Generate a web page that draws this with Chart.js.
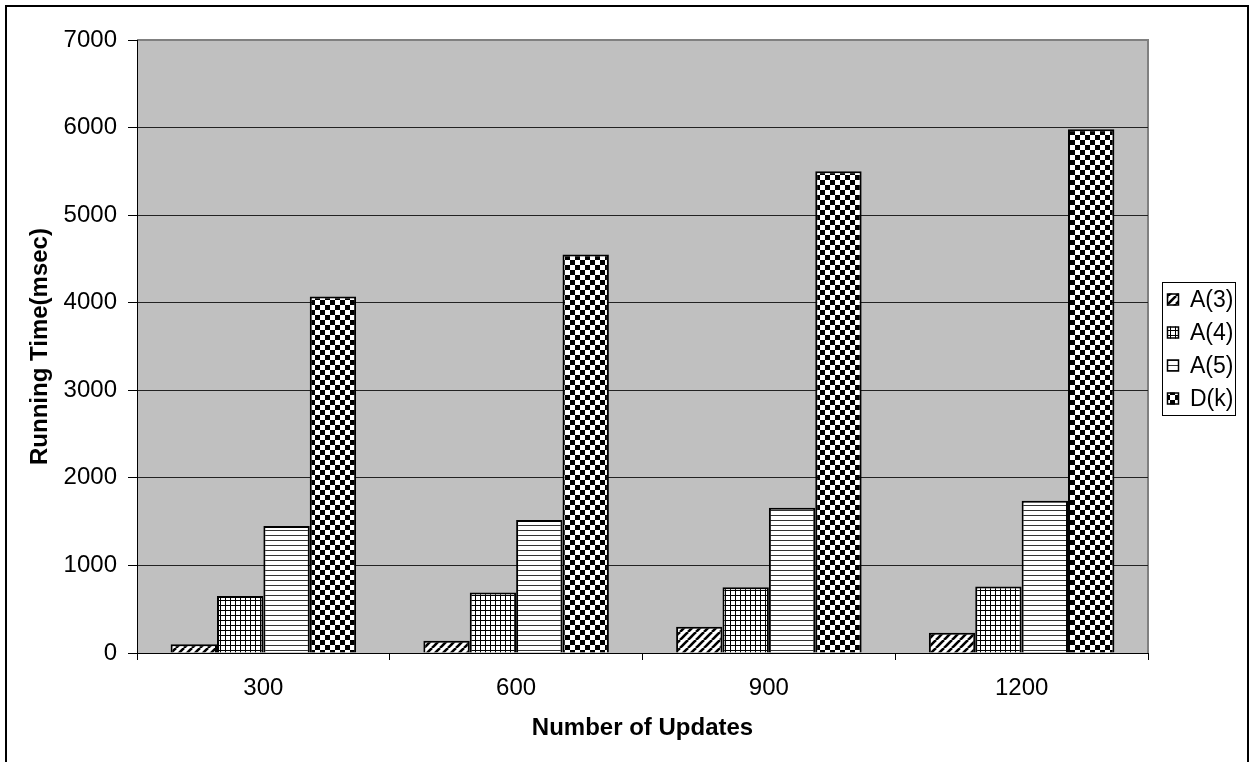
<!DOCTYPE html>
<html>
<head>
<meta charset="utf-8">
<script src="https://cdn.jsdelivr.net/npm/chart.js@4.4.0/dist/chart.umd.min.js"></script>
<style>
  html, body { margin: 0; padding: 0; background: #fff; }
  #wrap { width: 1254px; height: 762px; }
</style>
</head>
<body>
<div id="wrap"><canvas id="c" width="1254" height="762"></canvas></div>
<script>
// Categories and series
const categories = ['300', '600', '900', '1200'];
const seriesNames = ['A(3)', 'A(4)', 'A(5)', 'D(k)'];
const a3 = [100, 140, 300, 230];
const a4 = [650, 690, 750, 760];
const a5 = [1450, 1520, 1660, 1740];
const dk = [4070, 4550, 5500, 5980];
const yMin = 0;
const yMax = 7000;
const yStep = 1000;

const FONT = '"Liberation Sans", Arial, sans-serif';

// Monochrome fill patterns for the four series
function makePattern(kind) {
  const c = document.createElement('canvas');
  const g = c.getContext('2d');
  if (kind === 'diag') {
    c.width = 8; c.height = 8;
    g.fillStyle = '#fff'; g.fillRect(0, 0, 8, 8);
    g.strokeStyle = '#000'; g.lineWidth = 2.6;
    for (const o of [-8, 0, 8]) {
      g.beginPath(); g.moveTo(o, 8); g.lineTo(o + 8, 0); g.stroke();
    }
  } else if (kind === 'grid') {
    c.width = 5; c.height = 5;
    g.fillStyle = '#fff'; g.fillRect(0, 0, 5, 5);
    g.fillStyle = '#000';
    g.fillRect(0, 0, 1, 5);
    g.fillRect(0, 0, 5, 1);
  } else if (kind === 'hlines') {
    c.width = 5; c.height = 5;
    g.fillStyle = '#fff'; g.fillRect(0, 0, 5, 5);
    g.fillStyle = '#333';
    g.fillRect(0, 0, 5, 1);
  } else {
    c.width = 10; c.height = 10;
    g.fillStyle = '#fff'; g.fillRect(0, 0, 10, 10);
    g.fillStyle = '#000';
    g.fillRect(0, 0, 5, 5);
    g.fillRect(5, 5, 5, 5);
  }
  return document.getElementById('c').getContext('2d').createPattern(c, 'repeat');
}

const fills = [makePattern('diag'), makePattern('grid'), makePattern('hlines'), makePattern('checker')];
const values = [a3, a4, a5, dk];

// Page frame, plot background and legend box
const framePlugin = {
  id: 'frame',
  beforeDraw(chart) {
    const { ctx, chartArea: a } = chart;
    ctx.save();
    ctx.fillStyle = '#fff';
    ctx.fillRect(0, 0, chart.width, chart.height);
    ctx.strokeStyle = '#000';
    ctx.lineWidth = 2;
    ctx.strokeRect(6, 6, 1242, 800);
    ctx.fillStyle = '#c0c0c0';
    ctx.fillRect(a.left, a.top, a.right - a.left, a.bottom - a.top);
    ctx.strokeStyle = '#808080';
    ctx.lineWidth = 2;
    ctx.beginPath();
    ctx.moveTo(a.left, a.top);
    ctx.lineTo(a.right, a.top);
    ctx.lineTo(a.right, a.bottom);
    ctx.stroke();
    ctx.restore();
  },
  afterDraw(chart) {
    const { ctx, chartArea: a } = chart;
    const boxL = a.right + 14, boxW = 73;
    const rowH = 33;
    const n = chart.data.datasets.length;
    const boxH = n * rowH + 1;
    const boxT = Math.round((a.top + a.bottom) / 2 - boxH / 2) + 2;
    ctx.save();
    ctx.fillStyle = '#fff';
    ctx.fillRect(boxL, boxT, boxW, boxH);
    ctx.strokeStyle = '#000';
    ctx.lineWidth = 1;
    ctx.strokeRect(boxL + 0.5, boxT + 0.5, boxW, boxH);
    ctx.font = '23px ' + FONT;
    ctx.textBaseline = 'middle';
    ctx.textAlign = 'left';
    chart.data.datasets.forEach((ds, i) => {
      const cy = boxT + rowH / 2 + 1 + i * rowH;
      ctx.fillStyle = ds.backgroundColor;
      ctx.fillRect(boxL + 5, cy - 6, 12, 12);
      ctx.strokeStyle = '#000';
      ctx.lineWidth = 1.5;
      ctx.strokeRect(boxL + 5.5, cy - 5.5, 11, 11);
      ctx.fillStyle = '#000';
      ctx.fillText(ds.label, boxL + 28, cy + 1);
    });
    ctx.restore();
  }
};

new Chart(document.getElementById('c'), {
  type: 'bar',
  data: {
    labels: categories,
    datasets: seriesNames.map((name, i) => ({
      label: name,
      data: values[i],
      backgroundColor: fills[i],
      borderColor: '#000',
      borderWidth: 2,
      categoryPercentage: 0.734,
      barPercentage: 1
    }))
  },
  options: {
    responsive: false,
    animation: false,
    devicePixelRatio: 1,
    layout: { padding: { left: 0, top: 40, right: 106, bottom: 0 } },
    plugins: { legend: { display: false }, tooltip: { enabled: false } },
    scales: {
      x: {
        grid: { display: true, drawOnChartArea: false, drawTicks: true, tickLength: 7, color: '#000', tickColor: '#000', offset: true },
        border: { display: true, color: '#000', width: 1 },
        ticks: { color: '#000', font: { family: FONT, size: 24 }, padding: 14 },
        title: { display: true, text: 'Number of Updates', color: '#000',
                 font: { family: FONT, size: 24, weight: 'bold' }, padding: { top: 0, bottom: 19 } },
        afterFit(s) { s.height = 109; }
      },
      y: {
        min: yMin, max: yMax,
        ticks: { stepSize: yStep, color: '#000', font: { family: FONT, size: 24 }, padding: 11,
                 callback: (v) => String(v) },
        grid: {
          drawTicks: true, tickLength: 9, tickColor: '#000', lineWidth: 1,
          color: (c) => (c.tick && c.tick.value === yMax ? '#808080' : '#222')
        },
        border: { display: true, color: '#000', width: 1 },
        title: { display: true, text: 'Running Time(msec)', color: '#000',
                 font: { family: FONT, size: 24, weight: 'bold' }, padding: { top: 26, bottom: 0 } },
        afterFit(s) { s.width = 137; }
      }
    }
  },
  plugins: [framePlugin]
});
</script>
</body>
</html>
